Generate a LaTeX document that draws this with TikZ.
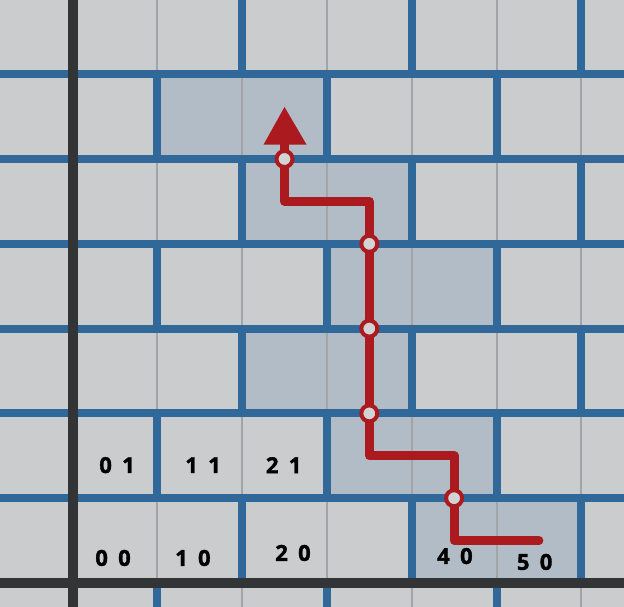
\documentclass[tikz,border=0pt]{standalone}
\usepackage{fontspec}
\newfontfamily\lblfont[WordSpace=1.8,BoldFont={Open Sans Bold},BoldFeatures={FakeBold=1.5}]{Open Sans}
\definecolor{bggray}{HTML}{CBCCCE}
\definecolor{hlcell}{HTML}{B2BCC7}
\definecolor{thinline}{HTML}{A3A4A7}
\definecolor{brickblue}{HTML}{306899}
\definecolor{axisdark}{HTML}{333436}
\definecolor{pathred}{HTML}{AA1A1F}
\definecolor{holefill}{HTML}{D2D3D5}
\begin{document}
\begin{tikzpicture}[x=84.8pt,y=84.8pt,
  thinrule/.style={draw=thinline,line width=2pt},
  bluerule/.style={draw=brickblue,line width=8pt},
  axisrule/.style={draw=axisdark,line width=10pt},
  routeline/.style={draw=pathred,line width=9pt,line join=round,line cap=round},
  waypoint/.style={circle,draw=pathred,line width=4pt,fill=holefill,minimum size=16pt,inner sep=0pt},
  celllabel/.style={font=\lblfont\bfseries\fontsize{22}{22}\selectfont,inner sep=0pt,text=black}]
\useasboundingbox (-0.8550,-0.2830) rectangle (6.5035,6.8750);
\clip (-0.8550,-0.2830) rectangle (6.5035,6.8750);
\fill[bggray] (-0.8550,-0.2830) rectangle (6.5035,6.8750);
% highlighted bricks
\foreach \i/\j in {1/5,2/5,2/4,3/4,3/3,4/3,2/2,3/2,3/1,4/1,4/0,5/0}
  \fill[hlcell] (\i,\j) rectangle ++(1,1);
% vertical separators (brick pattern)
\foreach \j in {-1,...,6}{
  \foreach \k in {1,...,6}{
    \pgfmathtruncatemacro{\myparity}{mod(\j+\k+20,2)}
    \ifnum\myparity=1
      \draw[thinrule] (\k,\j) -- (\k,\j+1);
    \fi
  }
}
\foreach \j in {-1,...,6}{
  \foreach \k in {1,...,6}{
    \pgfmathtruncatemacro{\myparity}{mod(\j+\k+20,2)}
    \ifnum\myparity=0
      \draw[bluerule] (\k,\j) -- (\k,\j+1);
    \fi
  }
}
% horizontal separators
\foreach \j in {1,...,6}
  \draw[bluerule] (-0.9,\j) -- (6.6,\j);
% axes
\draw[axisrule] (0,-0.4) -- (0,7);
\draw[axisrule] (-0.9,0) -- (6.6,0);
% route
\coordinate (s0) at (5.5,0.5);
\coordinate (s1) at (4.5,0.5);
\coordinate (s2) at (4.5,1.5);
\coordinate (s3) at (3.5,1.5);
\coordinate (s4) at (3.5,4.5);
\coordinate (s5) at (2.5,4.5);
\coordinate (s6) at (2.5,5.18);
\draw[routeline] (s0) -- (s1) -- (s2) -- (s3) -- (s4) -- (s5) -- (s6);
\fill[pathred] (2.2530,5.1700) -- (2.5,5.6132) -- (2.7600,5.1700) -- cycle;
\node[waypoint] (w1) at (4.5,1) {};
\node[waypoint] (w2) at (3.5,2) {};
\node[waypoint] (w3) at (3.5,3) {};
\node[waypoint] (w4) at (3.5,4) {};
\node[waypoint] (w5) at (2.5,5) {};
% labels
\node[celllabel] (l01) at (0.525,1.39) {0 1};
\node[celllabel] (l11) at (1.54,1.39) {1 1};
\node[celllabel] (l21) at (2.49,1.39) {2 1};
\node[celllabel] (l00) at (0.478,0.295) {0 0};
\node[celllabel] (l10) at (1.42,0.295) {1 0};
\node[celllabel] (l20) at (2.60,0.354) {2 0};
\node[celllabel] (l40) at (4.51,0.318) {4 0};
\node[celllabel] (l50) at (5.45,0.248) {5 0};
\end{tikzpicture}
\end{document}
